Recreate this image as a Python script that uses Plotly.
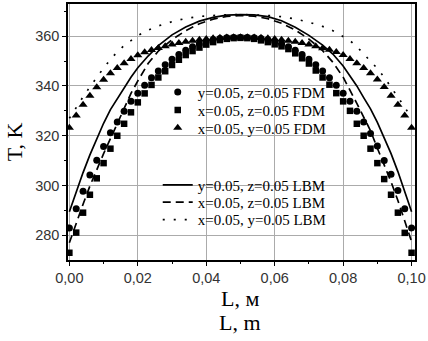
import plotly.graph_objects as go

# ---------------- data ----------------
x_fdm = [0.000, 0.002, 0.004, 0.006, 0.008, 0.010, 0.012, 0.014, 0.016, 0.018,
         0.020, 0.022, 0.024, 0.026, 0.028, 0.030, 0.032, 0.034, 0.036, 0.038,
         0.040, 0.042, 0.044, 0.046, 0.048, 0.050, 0.052, 0.054, 0.056, 0.058,
         0.060, 0.062, 0.064, 0.066, 0.068, 0.070, 0.072, 0.074, 0.076, 0.078,
         0.080, 0.082, 0.084, 0.086, 0.088, 0.090, 0.092, 0.094, 0.096, 0.098,
         0.100]

t_yz_fdm = [283.0, 290.7, 297.7, 304.2, 310.2, 315.7, 321.2, 325.5, 329.8, 333.8,
            337.1, 340.3, 343.3, 346.0, 348.5, 350.7, 352.6, 354.3, 355.7, 356.9,
            357.8, 358.5, 359.0, 359.3, 359.4, 359.4, 359.4, 359.3, 359.0, 358.5,
            357.8, 356.9, 355.7, 354.3, 352.6, 350.7, 348.5, 346.0, 343.3, 340.3,
            337.1, 333.8, 329.8, 325.5, 320.9, 315.9, 310.1, 304.5, 298.0, 290.7,
            283.0]

t_xz_fdm = [273.0, 281.1, 289.1, 296.3, 302.9, 309.0, 314.8, 320.0, 324.8, 329.4,
            333.4, 337.0, 340.4, 343.4, 345.9, 348.4, 350.5, 352.4, 354.0, 355.4,
            356.6, 357.6, 358.4, 358.9, 359.2, 359.3, 359.2, 358.9, 358.3, 357.6,
            356.7, 355.9, 354.8, 353.1, 351.1, 349.0, 346.2, 343.4, 340.5, 337.1,
            333.8, 330.0, 324.8, 320.0, 314.8, 309.0, 302.6, 296.3, 289.1, 281.0,
            273.0]

t_xy_fdm = [323.2, 328.1, 332.4, 336.1, 339.5, 342.5, 345.1, 347.2, 349.1, 350.8,
            352.3, 353.5, 354.4, 355.2, 355.9, 356.6, 357.2, 357.7, 358.1, 358.5,
            358.8, 359.1, 359.3, 359.4, 359.5, 359.5, 359.5, 359.4, 359.3, 359.1,
            358.8, 358.5, 358.1, 357.7, 357.2, 356.6, 355.9, 355.1, 354.5, 353.6,
            352.4, 350.8, 349.1, 347.2, 345.1, 342.6, 339.6, 336.1, 332.4, 328.1,
            323.2]

x_lbm = [0.000, 0.002, 0.004, 0.006, 0.008, 0.010, 0.012, 0.014, 0.016, 0.018,
         0.020, 0.023, 0.026, 0.030, 0.034, 0.038, 0.042, 0.046, 0.050, 0.054,
         0.058, 0.062, 0.066, 0.070, 0.074, 0.077, 0.080, 0.082, 0.084, 0.086,
         0.088, 0.090, 0.092, 0.094, 0.096, 0.098, 0.100]

t_yz_lbm = [289.5, 297.5, 305.2, 312.3, 318.8, 325.0, 330.5, 335.0, 339.2, 343.5,
            347.3, 352.0, 356.2, 360.5, 363.7, 366.0, 367.5, 368.4, 368.6, 368.5,
            367.8, 366.2, 363.6, 360.3, 356.4, 352.8, 348.0, 344.2, 340.0, 335.3,
            330.8, 325.4, 319.3, 312.8, 305.6, 297.8, 289.5]

t_xz_lbm = [277.0, 285.0, 292.5, 299.8, 306.6, 312.8, 318.8, 325.0, 331.0, 337.0,
            342.0, 349.0, 354.0, 358.6, 362.2, 365.0, 366.8, 367.9, 368.3, 368.0,
            367.0, 365.2, 362.5, 358.8, 354.2, 349.5, 343.5, 338.5, 333.0, 327.5,
            322.0, 315.0, 308.5, 301.5, 294.0, 286.0, 277.5]

t_xy_lbm = [327.0, 331.5, 335.6, 339.6, 343.6, 347.2, 350.6, 353.7, 356.2, 358.3,
            360.2, 362.4, 364.1, 365.8, 367.1, 367.9, 368.4, 368.6, 368.7, 368.6,
            368.3, 367.8, 366.9, 365.6, 363.9, 362.2, 360.0, 358.2, 355.8, 353.0,
            350.0, 347.0, 343.5, 339.6, 335.6, 331.5, 327.0]

names_fdm = ["y=0.05, z=0.05 FDM", "x=0.05, z=0.05 FDM", "x=0.05, y=0.05 FDM"]
names_lbm = ["y=0.05, z=0.05 LBM", "x=0.05, z=0.05 LBM", "x=0.05, y=0.05 LBM"]

x_ticks = [0.00, 0.02, 0.04, 0.06, 0.08, 0.10]
y_ticks = [280, 300, 320, 340, 360]

# ---------------- figure ----------------
SERIF = "Liberation Serif, Times New Roman, serif"
SANS = "Liberation Sans, Arial, sans-serif"

fig = go.Figure()

# one legend per entry so that rows can sit as tightly as in the original
legend_rows_fdm = ["legend", "legend2", "legend3"]
legend_rows_lbm = ["legend4", "legend5", "legend6"]

for ys, nm, dash, lg in zip([t_yz_lbm, t_xz_lbm, t_xy_lbm], names_lbm,
                            ["solid", "8px,5px", "2px,9px"], legend_rows_lbm):
    fig.add_trace(go.Scatter(x=x_lbm, y=ys, mode="lines", name=nm,
                             line=dict(color="black", width=1.7, dash=dash),
                             legend=lg))

for ys, nm, sym, sz, lg in zip([t_yz_fdm, t_xz_fdm, t_xy_fdm], names_fdm,
                               ["circle", "square", "triangle-up"], [7, 6.5, 8],
                               legend_rows_fdm):
    fig.add_trace(go.Scatter(x=x_fdm, y=ys, mode="markers", name=nm,
                             marker=dict(symbol=sym, size=sz, color="black",
                                         line=dict(width=0)),
                             legend=lg))

axis_common = dict(showline=True, linecolor="black", linewidth=1.5, mirror=True,
                   ticks="outside", ticklen=4, tickwidth=1, tickcolor="black",
                   showgrid=True, gridcolor="#ababab", gridwidth=1, zeroline=False,
                   tickfont=dict(family=SANS, size=14.5, color="#333333"))

fig.update_xaxes(range=[-0.0004, 0.101], tickvals=x_ticks, tickformat=".2f",
                 minor=dict(ticks="outside", ticklen=2, tickcolor="black",
                            dtick=0.01, tick0=0, showgrid=False),
                 **axis_common)
fig.update_yaxes(range=[270.1, 372.9], tickvals=y_ticks,
                 minor=dict(ticks="outside", ticklen=2, tickcolor="black",
                            dtick=10, tick0=0, showgrid=False),
                 ticklabelstandoff=0,
                 **axis_common)

def legend_at(yc):
    return dict(x=0.2586, y=yc, xanchor="left", yanchor="middle",
                bgcolor="rgba(0,0,0,0)", borderwidth=0, tracegroupgap=0,
                font=dict(family=SERIF, size=15, color="black"))

row_y = [0.6550, 0.5853, 0.5155, 0.2926, 0.2248, 0.1570]

# white legend backgrounds (hide the grid behind the two legend blocks)
legend_boxes = [(0.264, 0.724, 0.473, 0.705), (0.264, 0.747, 0.058, 0.368)]
shapes = [dict(type="rect", xref="paper", yref="paper", x0=a, x1=b, y0=c, y1=d,
               fillcolor="white", line=dict(width=0), layer="below")
          for a, b, c, d in legend_boxes]

fig.update_layout(
    width=428, height=341,
    margin=dict(l=68, r=12, t=2, b=81),
    plot_bgcolor="white", paper_bgcolor="white",
    separators=", ",
    showlegend=True,
    shapes=shapes,
    legend=legend_at(row_y[0]),
    legend2=legend_at(row_y[1]),
    legend3=legend_at(row_y[2]),
    legend4=legend_at(row_y[3]),
    legend5=legend_at(row_y[4]),
    legend6=legend_at(row_y[5]),
    annotations=[
        dict(text="T, K", xref="paper", yref="paper", x=-0.152, y=0.461,
             textangle=-90, showarrow=False, xanchor="center", yanchor="middle",
             font=dict(family=SERIF, size=22, color="black")),
        dict(text="L, м", xref="paper", yref="paper", x=0.497, y=-0.151,
             showarrow=False, xanchor="center", yanchor="middle",
             font=dict(family=SERIF, size=22, color="black")),
        dict(text="L, m", xref="paper", yref="paper", x=0.497, y=-0.245,
             showarrow=False, xanchor="center", yanchor="middle",
             font=dict(family=SERIF, size=22, color="black")),
    ],
)

fig.write_html("out.html", config={"displayModeBar": False},
               post_script="document.body.style.margin='0';document.body.style.padding='0';")
